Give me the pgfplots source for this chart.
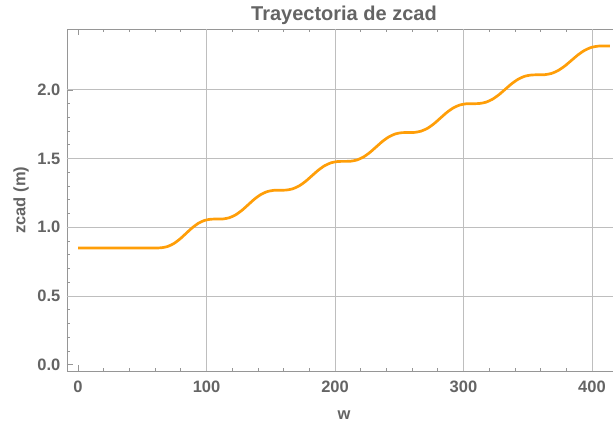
\documentclass[border=0pt]{standalone}
\usepackage{fontspec}
\setmainfont{Liberation Sans}
\usepackage{pgfplots}
\pgfplotsset{compat=1.18}
\definecolor{txtgray}{RGB}{100,100,100}
\definecolor{framegray}{RGB}{150,150,150}
\definecolor{gridgray}{RGB}{190,190,190}
\definecolor{curve}{RGB}{255,158,8}
\begin{document}
\begin{tikzpicture}
\begin{axis}[
  scale only axis,
  width=553.9bp, height=341.5bp,
  xmin=-8.6, xmax=422.5,
  ymin=-0.046, ymax=2.44,
  xtick={0,100,200,300,400},
  ytick={0,0.5,1.0,1.5,2.0},
  minor x tick num=4,
  minor y tick num=4,
  major tick length=6bp,
  minor tick length=3bp,
  tick style={framegray, line width=0.8bp},
  axis line style={framegray, line width=0.9bp},
  extra x ticks={100,200,300,400},
  extra y ticks={0.5,1.0,1.5,2.0},
  extra x tick labels={},
  extra y tick labels={},
  extra tick style={grid=major, major tick length=0pt},
  grid style={gridgray, line width=0.9bp},
  /pgf/number format/assume math mode=true,
  yticklabel style={/pgf/number format/fixed, /pgf/number format/fixed zerofill, /pgf/number format/precision=1, anchor=east, inner sep=0pt, xshift=-6.5bp},
  xticklabel style={anchor=base, inner sep=0pt, yshift=-21.5bp},
  ticklabel style={font=\fontsize{16.5bp}{16.5bp}\selectfont\bfseries, text=txtgray},
  every axis title shift=0pt,
  title={Trayectoria de zcad},
  title style={at={(axis description cs:0.5,1)}, anchor=base, yshift=8.8bp, inner sep=0pt, font=\fontsize{20bp}{20bp}\selectfont\bfseries, text=txtgray},
  xlabel={w},
  xlabel style={at={(axis description cs:0.5,0)}, anchor=center, yshift=-44bp, font=\fontsize{16.5bp}{16.5bp}\selectfont\bfseries, text=txtgray},
  ylabel={zcad (m)},
  ylabel style={at={(axis description cs:-0.083,0.5)}, anchor=center, font=\fontsize{16.5bp}{16.5bp}\selectfont\bfseries, text=txtgray},
]
\addplot[curve, line width=2.7bp, smooth, tension=0.4] coordinates {
(0,0.85) (20,0.85) (40,0.85) (60,0.85)
(64.8,0.851) (69.6,0.860) (74.4,0.881) (79.2,0.914) (84,0.955) (88.8,0.996) (93.6,1.029) (98.4,1.050) (103.2,1.059) (108,1.060)
(112.9,1.061) (117.8,1.070) (122.7,1.091) (127.6,1.124) (132.5,1.165) (137.4,1.206) (142.3,1.239) (147.2,1.260) (152.1,1.269) (157,1.270)
(162,1.271) (167,1.280) (172,1.301) (177,1.334) (182,1.375) (187,1.416) (192,1.449) (197,1.470) (202,1.479) (207,1.480)
(212,1.481) (217,1.490) (222,1.511) (227,1.544) (232,1.585) (237,1.626) (242,1.659) (247,1.680) (252,1.689) (257,1.690)
(262,1.691) (267,1.700) (272,1.721) (277,1.754) (282,1.795) (287,1.836) (292,1.869) (297,1.890) (302,1.899) (307,1.900)
(312.1,1.901) (317.2,1.910) (322.3,1.931) (327.4,1.964) (332.5,2.005) (337.6,2.046) (342.7,2.079) (347.8,2.100) (352.9,2.109) (358,2.110)
(363.2,2.111) (368.4,2.120) (373.6,2.141) (378.8,2.174) (384,2.215) (389.2,2.256) (394.4,2.289) (399.6,2.310) (404.8,2.319) (410,2.320)
(414,2.320)
};
\coordinate (SW) at (rel axis cs:0,0);
\end{axis}
\pgfresetboundingbox
\path[use as bounding box] ([xshift=-67bp,yshift=-53bp]SW) rectangle ([xshift=546bp,yshift=371bp]SW);
\end{tikzpicture}
\end{document}
